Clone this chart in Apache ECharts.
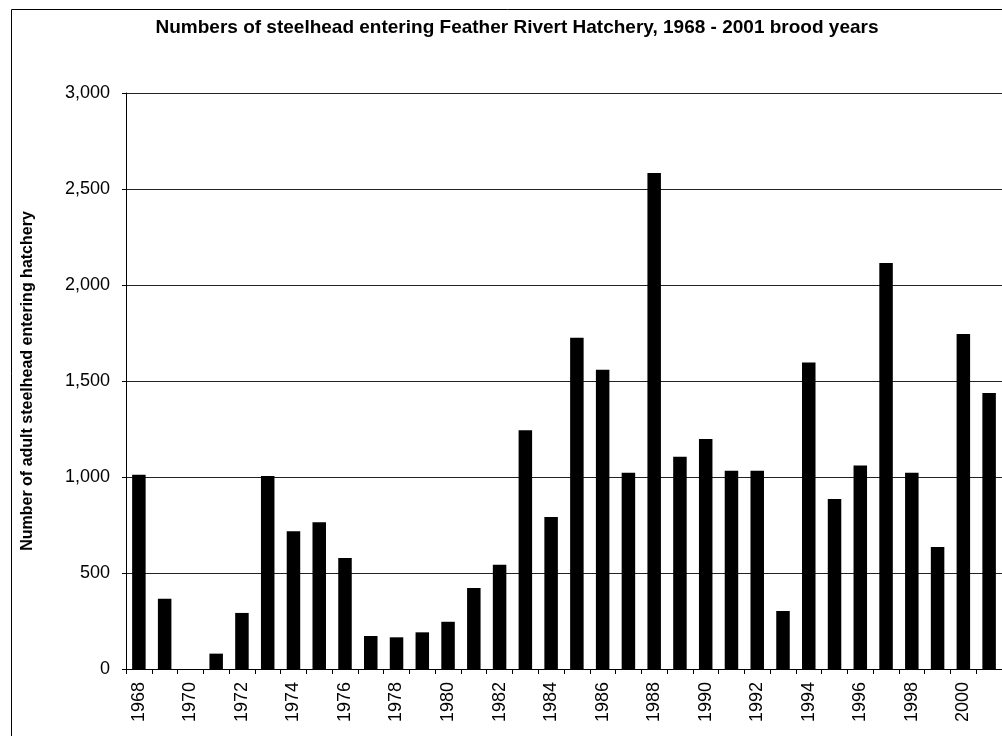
<!DOCTYPE html>
<html>
<head>
<meta charset="utf-8">
<script src="https://cdn.jsdelivr.net/npm/echarts@6/dist/echarts.min.js"></script>
<style>
  html, body { margin: 0; padding: 0; background: #fff; overflow: hidden; }
  #chart { width: 1002px; height: 736px; }
</style>
</head>
<body>
<div id="chart"></div>
<script>
// brood years 1968 - 2001
var years = ['1968', '1969', '1970', '1971', '1972', '1973', '1974', '1975', '1976', '1977',
    '1978', '1979', '1980', '1981', '1982', '1983', '1984', '1985', '1986', '1987',
    '1988', '1989', '1990', '1991', '1992', '1993', '1994', '1995', '1996', '1997',
    '1998', '1999', '2000', '2001'];

// adults entering the hatchery
var adults = [1012, 366, 0, 80, 292, 1005, 717, 764, 578, 172,
    165, 191, 246, 422, 543, 1243, 792, 1725, 1559, 1022,
    2583, 1106, 1198, 1033, 1033, 302, 1597, 885, 1060, 2115,
    1022, 635, 1745, 1437];

var yTicks = [0, 500, 1000, 1500, 2000, 2500, 3000];

var font = 'Liberation Sans, Arial, sans-serif';

var chart = echarts.init(document.getElementById('chart'));
chart.setOption({
    animation: false,
    backgroundColor: '#fff',
    title: {
        text: 'Numbers of steelhead entering Feather Rivert Hatchery, 1968 - 2001 brood years',
        left: 512,
        textAlign: 'center',
        top: 13,
        textStyle: { fontFamily: font, fontSize: 19, fontWeight: 'bold', color: '#000' }
    },
    // chart area frame, cut off at the right and bottom like the original
    graphic: [{
        type: 'rect',
        shape: { x: 11.5, y: 9.5, width: 2000, height: 2000 },
        style: { fill: 'none', stroke: '#000', lineWidth: 1 },
        silent: true
    }],
    grid: { left: 126, top: 93, height: 576, width: 887, containLabel: false },
    xAxis: {
        type: 'category',
        data: years,
        boundaryGap: true,
        axisLine: { lineStyle: { color: '#000', width: 1 } },
        axisTick: { show: true, interval: 0, length: 5, lineStyle: { color: '#000' } },
        axisLabel: {
            interval: 1,
            rotate: 90,
            margin: 13,
            color: '#000',
            fontFamily: font,
            fontSize: 18
        },
        splitLine: { show: false }
    },
    yAxis: {
        type: 'value',
        min: yTicks[0],
        max: yTicks[yTicks.length - 1],
        interval: 500,
        name: 'Number of adult steelhead entering hatchery',
        nameLocation: 'middle',
        nameRotate: 90,
        nameGap: 90,
        nameTextStyle: { fontFamily: font, fontSize: 16, fontWeight: 'bold', color: '#000' },
        axisLine: { show: true, lineStyle: { color: '#000', width: 1 } },
        axisTick: { show: true, length: 4, lineStyle: { color: '#000' } },
        axisLabel: {
            color: '#000',
            fontFamily: font,
            fontSize: 18,
            margin: 16,
            formatter: function (v) { return v.toLocaleString('en-US'); }
        },
        splitLine: { show: true, lineStyle: { color: '#222', width: 1 } }
    },
    series: [{
        type: 'bar',
        data: adults,
        barWidth: 13.5,
        itemStyle: { color: '#000' }
    }]
});
</script>
</body>
</html>
